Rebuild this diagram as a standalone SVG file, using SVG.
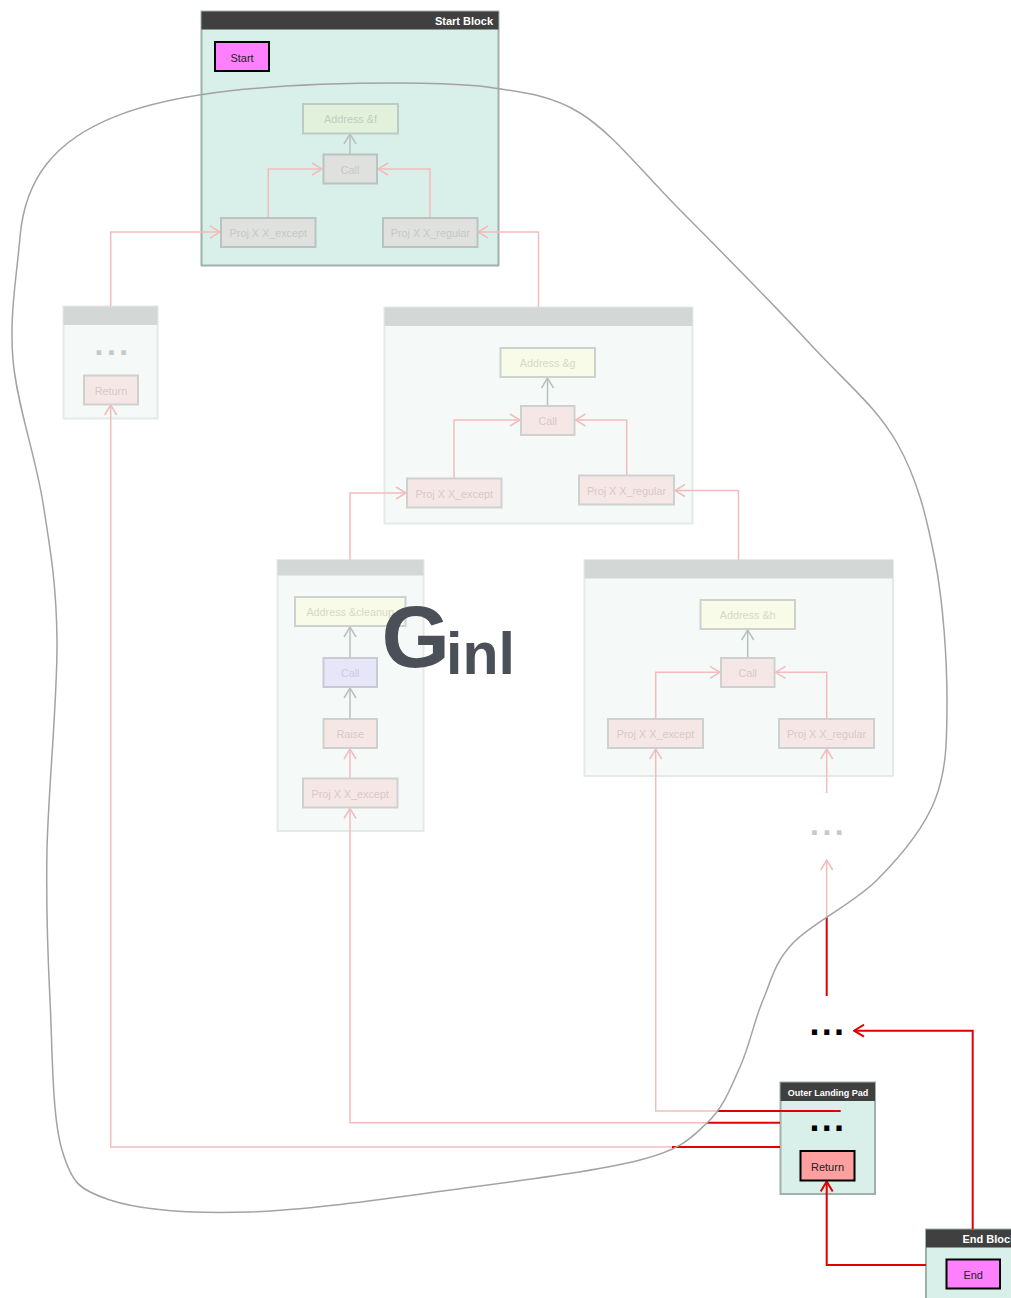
<svg xmlns="http://www.w3.org/2000/svg" width="1011" height="1298" viewBox="0 0 1011 1298">
  <defs>
    <style>
      .hdr { fill: #404040; }
      .title { font-family: "Liberation Sans", Arial, sans-serif; font-weight: bold; fill: #ffffff; }
      .blk { fill: #d9efe9; stroke: #9fb1ab; stroke-width: 2; }
      .fblk { fill: #f5f9f8; stroke: #e5eae8; stroke-width: 2; }
      .fhdr { fill: #d3d7d6; }
      .lbl { font-family: "Liberation Sans", Arial, sans-serif; font-size: 10.8px; text-anchor: middle; }
      .t-gray { fill: #c4c9c7; }
      .t-pink { fill: #d9c8c8; }
      .t-yel { fill: #d4dac6; }
      .t-green { fill: #bdcfbd; }
      .t-lav { fill: #cdcbdc; }
      .t-dark { fill: #222222; font-size: 11px; }
      .n-gray { fill: #e0e1de; stroke: #b9c3bf; stroke-width: 2; }
      .n-green { fill: #e2f1dc; stroke: #bccbc3; stroke-width: 2; }
      .n-pink { fill: #f6e7e7; stroke: #cfd1d0; stroke-width: 2; }
      .n-yel { fill: #f8fbe7; stroke: #cfd2cc; stroke-width: 2; }
      .n-lav { fill: #e7e6f8; stroke: #c9cbd0; stroke-width: 2; }
      .n-mag { fill: #ff80ff; stroke: #000000; stroke-width: 2; }
      .n-red { fill: #ffa0a0; stroke: #000000; stroke-width: 2; }
      .e-pink { fill: none; stroke: #f3bcbc; stroke-width: 1.5; }
      .e-gray { fill: none; stroke: #b8c0bd; stroke-width: 1.5; }
      .e-red { fill: none; stroke: #e00000; stroke-width: 2; }
      .dots-g { font-family: "Liberation Sans", Arial, sans-serif; font-weight: bold; font-size: 32px; fill: #c8c8c8; letter-spacing: 3.5px; }
      .dots-k { font-family: "Liberation Sans", Arial, sans-serif; font-weight: bold; font-size: 36px; fill: #000000; letter-spacing: 2.3px; }
    </style>
    <marker id="ah-pink" markerUnits="userSpaceOnUse" markerWidth="12" markerHeight="14" viewBox="0 0 12 14" refX="11" refY="7" orient="auto">
      <path d="M1,1 L11,7 L1,13" fill="none" stroke="#f3bcbc" stroke-width="1.5"/>
    </marker>
    <marker id="ah-gray" markerUnits="userSpaceOnUse" markerWidth="12" markerHeight="14" viewBox="0 0 12 14" refX="11" refY="7" orient="auto">
      <path d="M1,1 L11,7 L1,13" fill="none" stroke="#b8c0bd" stroke-width="1.5"/>
    </marker>
    <marker id="ah-red" markerUnits="userSpaceOnUse" markerWidth="12" markerHeight="14" viewBox="0 0 12 14" refX="11" refY="7" orient="auto">
      <path d="M1,1 L11,7 L1,13" fill="none" stroke="#e00000" stroke-width="2"/>
    </marker>
  </defs>

  <rect width="1011" height="1298" fill="#ffffff"/>

  <!-- block frames -->
  <g id="start-block">
    <rect class="blk" x="201.5" y="11.5" width="297" height="254"/>
    <rect class="hdr" x="201.5" y="11.5" width="297" height="18"/>
    <text class="title" x="493" y="24.5" font-size="11" text-anchor="end">Start Block</text>
  </g>
  <g id="block-ret">
    <rect class="fblk" x="63.5" y="306.5" width="94" height="112"/>
    <rect class="fhdr" x="63.5" y="306.5" width="94" height="18.5"/>
    <text class="dots-g" x="94.5" y="354.5">...</text>
  </g>
  <g id="block-g">
    <rect class="fblk" x="384.5" y="307.5" width="308" height="216"/>
    <rect class="fhdr" x="384.5" y="307.5" width="308" height="18.5"/>
  </g>
  <g id="block-cleanup">
    <rect class="fblk" x="277.5" y="560" width="146" height="271"/>
    <rect class="fhdr" x="277.5" y="560" width="146" height="15.5"/>
  </g>
  <g id="block-h">
    <rect class="fblk" x="584.5" y="560" width="308.5" height="216"/>
    <rect class="fhdr" x="584.5" y="560" width="308.5" height="18.5"/>
  </g>
  <g id="landing-pad">
    <rect class="blk" x="780.5" y="1082.5" width="94.5" height="111.5"/>
    <rect class="hdr" x="780.5" y="1082.5" width="94.5" height="18.5"/>
    <text class="title" x="828" y="1095.5" font-size="9" text-anchor="middle">Outer Landing Pad</text>
  </g>
  <g id="end-block">
    <rect class="blk" x="926" y="1229.5" width="120" height="90"/>
    <rect class="hdr" x="926" y="1229.5" width="120" height="18"/>
    <text class="title" x="962.5" y="1242.5" font-size="11">End Block</text>
  </g>

  <!-- connectors -->
  <g id="edges">
    <path class="e-gray" d="M350,154 V134" marker-end="url(#ah-gray)"/>
    <path class="e-pink" d="M268.3,218 V169 H322" marker-end="url(#ah-pink)"/>
    <path class="e-pink" d="M430,218 V169 H378" marker-end="url(#ah-pink)"/>
    <path class="e-pink" d="M110.7,306 V232 H220" marker-end="url(#ah-pink)"/>
    <path class="e-pink" d="M538.5,307 V232 H478" marker-end="url(#ah-pink)"/>

    <path class="e-gray" d="M547.5,406 V378" marker-end="url(#ah-gray)"/>
    <path class="e-pink" d="M454,478.5 V420 H520" marker-end="url(#ah-pink)"/>
    <path class="e-pink" d="M626.7,475.5 V420 H575.5" marker-end="url(#ah-pink)"/>
    <path class="e-pink" d="M350,560 V493 H406" marker-end="url(#ah-pink)"/>
    <path class="e-pink" d="M738.5,560 V490.5 H675" marker-end="url(#ah-pink)"/>

    <path class="e-gray" d="M350,658 V627" marker-end="url(#ah-gray)"/>
    <path class="e-gray" d="M350,719 V688" marker-end="url(#ah-gray)"/>
    <path class="e-pink" d="M350,778.5 V749" marker-end="url(#ah-pink)"/>

    <path class="e-gray" d="M747.7,658 V630" marker-end="url(#ah-gray)"/>
    <path class="e-pink" d="M655.7,719 V672.3 H720" marker-end="url(#ah-pink)"/>
    <path class="e-pink" d="M826.7,719 V672.3 H775.5" marker-end="url(#ah-pink)"/>
    <path class="e-pink" d="M826.7,793 V749" marker-end="url(#ah-pink)"/>

    <path class="e-pink" d="M718,1111 H655.7 V749" marker-end="url(#ah-pink)"/>
    <path class="e-red" d="M840.7,1111 H718"/>
    <path class="e-pink" d="M707,1122.7 H350 V808.5" marker-end="url(#ah-pink)"/>
    <path class="e-red" d="M780,1122.7 H707"/>
    <path class="e-pink" d="M672,1147 H110.7 V405" marker-end="url(#ah-pink)"/>
    <path class="e-red" d="M780,1147 H672"/>

    <path class="e-pink" d="M826.7,917 V860" marker-end="url(#ah-pink)"/>
    <path class="e-red" d="M826.7,996 V917"/>
    <path class="e-red" d="M972.7,1229 V1030.7 H854" marker-end="url(#ah-red)"/>
    <path class="e-red" d="M926,1265 H826.7 V1181.5" marker-end="url(#ah-red)"/>
  </g>

  <!-- nodes -->
  <g id="n-start"><rect class="n-mag" x="215" y="42" width="54" height="29"/><text class="lbl t-dark" x="242" y="62">Start</text></g>
  <g id="n-addr-f"><rect class="n-green" x="303" y="104" width="95" height="29.5"/><text class="lbl t-green" x="350.5" y="123">Address &amp;f</text></g>
  <g id="n-call-f"><rect class="n-gray" x="323.5" y="154.5" width="53.5" height="29"/><text class="lbl t-gray" x="350" y="174">Call</text></g>
  <g id="n-exc-f"><rect class="n-gray" x="221" y="218" width="94.5" height="29"/><text class="lbl t-gray" x="268.3" y="237">Proj X X_except</text></g>
  <g id="n-reg-f"><rect class="n-gray" x="383" y="218" width="94.5" height="29"/><text class="lbl t-gray" x="430.3" y="237">Proj X X_regular</text></g>

  <g id="n-ret-left"><rect class="n-pink" x="84" y="375.5" width="54" height="29"/><text class="lbl t-pink" x="111" y="395">Return</text></g>

  <g id="n-addr-g"><rect class="n-yel" x="500.5" y="348" width="94.5" height="29"/><text class="lbl t-yel" x="547.7" y="367">Address &amp;g</text></g>
  <g id="n-call-g"><rect class="n-pink" x="521" y="406" width="53.5" height="29"/><text class="lbl t-pink" x="547.7" y="425">Call</text></g>
  <g id="n-exc-g"><rect class="n-pink" x="407" y="478.5" width="94.5" height="29"/><text class="lbl t-pink" x="454.2" y="497.5">Proj X X_except</text></g>
  <g id="n-reg-g"><rect class="n-pink" x="579" y="475.5" width="95" height="29"/><text class="lbl t-pink" x="626.5" y="494.5">Proj X X_regular</text></g>

  <g id="n-addr-cleanup"><rect class="n-yel" x="295" y="597" width="110.5" height="29"/><text class="lbl t-yel" x="350.2" y="616">Address &amp;cleanup</text></g>
  <g id="n-call-cleanup"><rect class="n-lav" x="323.5" y="658" width="53.5" height="29"/><text class="lbl t-lav" x="350.2" y="677">Call</text></g>
  <g id="n-raise"><rect class="n-pink" x="323.5" y="719" width="53.5" height="29"/><text class="lbl t-pink" x="350.2" y="738">Raise</text></g>
  <g id="n-exc-cleanup"><rect class="n-pink" x="303" y="778.5" width="94.5" height="29"/><text class="lbl t-pink" x="350.2" y="797.5">Proj X X_except</text></g>

  <g id="n-addr-h"><rect class="n-yel" x="700.5" y="600" width="94.5" height="29"/><text class="lbl t-yel" x="747.7" y="619">Address &amp;h</text></g>
  <g id="n-call-h"><rect class="n-pink" x="721" y="658" width="53.5" height="29"/><text class="lbl t-pink" x="747.7" y="677">Call</text></g>
  <g id="n-exc-h"><rect class="n-pink" x="608" y="719" width="95" height="29"/><text class="lbl t-pink" x="655.5" y="738">Proj X X_except</text></g>
  <g id="n-reg-h"><rect class="n-pink" x="779" y="719" width="95" height="29"/><text class="lbl t-pink" x="826.5" y="738">Proj X X_regular</text></g>

  <g id="n-dots-mid"><text class="dots-g" x="810" y="835.3">...</text></g>
  <g id="n-dots-low"><text class="dots-k" x="809.5" y="1035.3">...</text></g>
  <g id="n-dots-pad"><text class="dots-k" x="809.5" y="1131">...</text></g>
  <g id="n-return"><rect class="n-red" x="800.5" y="1151" width="54" height="29.5"/><text class="lbl t-dark" x="827.5" y="1170.5">Return</text></g>
  <g id="n-end"><rect class="n-mag" x="946.5" y="1259.5" width="53.5" height="29"/><text class="lbl t-dark" x="973.2" y="1279">End</text></g>

  <!-- region outline -->
  <path id="region" fill="none" stroke="#a3a3a3" stroke-width="1.5"
    d="M400,83 C430,83 455,84 480,86 C510,91 546.7,92.3 580,113 C613.3,133.7 641.2,171 680,210 C718.8,249 776.8,308.2 813,347 C849.2,385.8 876.7,407.5 897,443 C917.3,478.5 926.7,517.2 935,560 C943.3,602.8 947,660 947,700 C947,740 946.7,770 935,800 C923.3,830 900.7,856.2 877,880 C853.3,903.8 812,923 793,943 C774,963 771.8,979.3 763,1000 C754.2,1020.7 749.3,1046.5 740,1067 C730.7,1087.5 723.7,1107.5 707,1123 C690.3,1138.5 682.8,1148.8 640,1160 C597.2,1171.2 515,1181.3 450,1190 C385,1198.7 306.7,1210.3 250,1212 C193.3,1213.7 141.3,1210.3 110,1200 C78.7,1189.7 72,1183.3 62,1150 C52,1116.7 52.5,1050 50,1000 C47.5,950 45.8,910 47,850 C48.2,790 57.7,697.8 57,640 C56.3,582.2 50.3,549.7 43,503 C35.7,456.3 16.8,404.3 13,360 C9.2,315.7 16.5,278 20,237 C30,120 140,83 400,83 Z"/>

  <!-- region label -->
  <text id="region-label" font-family="Liberation Sans, Arial, sans-serif" font-weight="bold" fill="#4b4f57"><tspan x="381.5" y="667" font-size="88">G</tspan><tspan x="446" y="674" font-size="59">inl</tspan></text>
</svg>
